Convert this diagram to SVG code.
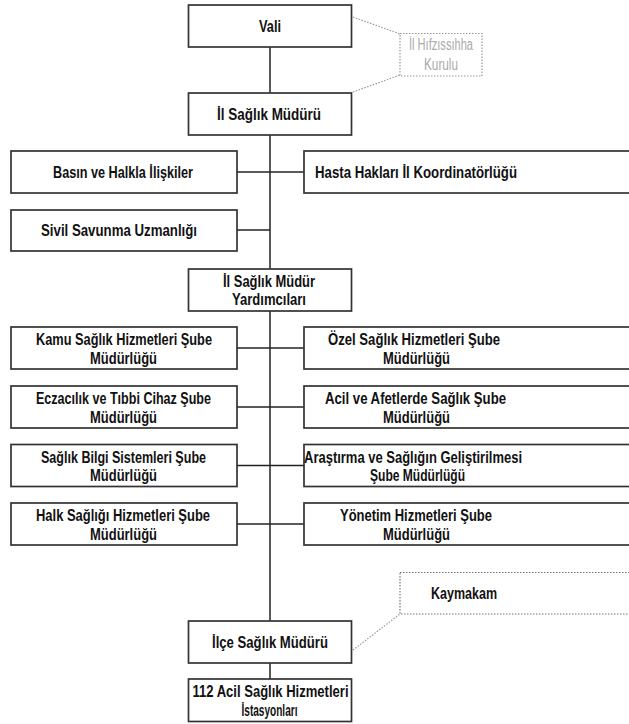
<svg xmlns="http://www.w3.org/2000/svg" width="629" height="724" viewBox="0 0 629 724">
<style>
.box{fill:#fff;stroke:#333;stroke-width:1.7}
.dbox{fill:#fff;stroke:#999;stroke-width:1.2;stroke-dasharray:1.5 1.5}
.dbox2{fill:#fff;stroke:#777;stroke-width:1.2;stroke-dasharray:1.5 1.5}
.t{font-family:"Liberation Sans",Arial,sans-serif;font-weight:bold;font-size:16px;fill:#111;text-anchor:middle}
.g{font-family:"Liberation Sans",Arial,sans-serif;font-size:16px;fill:#aaa;text-anchor:middle}
.ln{stroke:#222;stroke-width:1.5;fill:none}
.dl{stroke:#999;stroke-width:1.2;stroke-dasharray:1.5 1.5;fill:none}
</style>
<rect width="629" height="724" fill="#fff"/>
<g id="connectors">
<line class="ln" x1="270" y1="47" x2="270" y2="93"/>
<line class="ln" x1="270" y1="135" x2="270" y2="269"/>
<line class="ln" x1="270" y1="311" x2="270" y2="621"/>
<line class="ln" x1="270" y1="663" x2="270" y2="679"/>
<line class="ln" x1="237" y1="172" x2="304" y2="172"/>
<line class="ln" x1="237" y1="230" x2="270" y2="230"/>
<line class="ln" x1="237" y1="348" x2="304" y2="348"/>
<line class="ln" x1="237" y1="407" x2="304" y2="407"/>
<line class="ln" x1="237" y1="465.5" x2="304" y2="465.5"/>
<line class="ln" x1="237" y1="524" x2="304" y2="524"/>
<line class="dl" x1="353" y1="17" x2="400" y2="34"/>
<line class="dl" x1="353" y1="92" x2="400" y2="75"/>
<line class="dl" x1="353" y1="650" x2="400" y2="614"/>
</g>
<g id="vali"><rect class="box" x="188.5" y="5" width="163" height="42"/><text class="t" x="270" y="32" textLength="22" lengthAdjust="spacingAndGlyphs">Vali</text></g>
<g id="hifzissihha"><rect class="dbox" x="400" y="33.5" width="82" height="42.5"/><text class="g" x="441" y="50" textLength="64" lengthAdjust="spacingAndGlyphs">İl Hıfzıssıhha</text><text class="g" x="441" y="70" textLength="34" lengthAdjust="spacingAndGlyphs">Kurulu</text></g>
<g id="il-saglik-muduru"><rect class="box" x="188.5" y="93" width="163" height="42"/><text class="t" x="269" y="120" textLength="104" lengthAdjust="spacingAndGlyphs">İl Sağlık Müdürü</text></g>
<g id="basin"><rect class="box" x="11" y="151" width="226" height="42"/><text class="t" x="123" y="177.5" textLength="140" lengthAdjust="spacingAndGlyphs">Basın ve Halkla İlişkiler</text></g>
<g id="hasta"><rect class="box" x="304" y="151" width="340" height="42"/><text class="t" x="416" y="177.5" textLength="202" lengthAdjust="spacingAndGlyphs">Hasta Hakları İl Koordinatörlüğü</text></g>
<g id="sivil"><rect class="box" x="11" y="210" width="226" height="41"/><text class="t" x="119" y="236" textLength="156" lengthAdjust="spacingAndGlyphs">Sivil Savunma Uzmanlığı</text></g>
<g id="yardimcilari"><rect class="box" x="188.5" y="269" width="163" height="42"/><text class="t" x="269" y="286.5" textLength="92" lengthAdjust="spacingAndGlyphs">İl Sağlık Müdür</text><text class="t" x="269" y="304.5" textLength="74" lengthAdjust="spacingAndGlyphs">Yardımcıları</text></g>
<g id="kamu"><rect class="box" x="11" y="327" width="226" height="42"/><text class="t" x="124" y="345" textLength="176" lengthAdjust="spacingAndGlyphs">Kamu Sağlık Hizmetleri Şube</text><text class="t" x="123.5" y="363.5" textLength="67" lengthAdjust="spacingAndGlyphs">Müdürlüğü</text></g>
<g id="ozel"><rect class="box" x="304" y="327" width="340" height="42"/><text class="t" x="414" y="345" textLength="172" lengthAdjust="spacingAndGlyphs">Özel Sağlık Hizmetleri Şube</text><text class="t" x="416.5" y="363.5" textLength="67" lengthAdjust="spacingAndGlyphs">Müdürlüğü</text></g>
<g id="eczacilik"><rect class="box" x="11" y="386" width="226" height="42"/><text class="t" x="123.5" y="404" textLength="175" lengthAdjust="spacingAndGlyphs">Eczacılık ve Tıbbi Cihaz Şube</text><text class="t" x="123.5" y="422.5" textLength="67" lengthAdjust="spacingAndGlyphs">Müdürlüğü</text></g>
<g id="acil"><rect class="box" x="304" y="386" width="340" height="42"/><text class="t" x="415.5" y="404" textLength="181" lengthAdjust="spacingAndGlyphs">Acil ve Afetlerde Sağlık Şube</text><text class="t" x="416.5" y="422.5" textLength="67" lengthAdjust="spacingAndGlyphs">Müdürlüğü</text></g>
<g id="bilgi"><rect class="box" x="11" y="444.5" width="226" height="42"/><text class="t" x="123.5" y="462.5" textLength="165" lengthAdjust="spacingAndGlyphs">Sağlık Bilgi Sistemleri Şube</text><text class="t" x="123.5" y="481" textLength="67" lengthAdjust="spacingAndGlyphs">Müdürlüğü</text></g>
<g id="arastirma"><rect class="box" x="304" y="444.5" width="340" height="42"/><text class="t" x="413" y="462.5" textLength="218" lengthAdjust="spacingAndGlyphs">Araştırma ve Sağlığın Geliştirilmesi</text><text class="t" x="417.5" y="481" textLength="95" lengthAdjust="spacingAndGlyphs">Şube Müdürlüğü</text></g>
<g id="halk"><rect class="box" x="11" y="503" width="226" height="42"/><text class="t" x="123" y="521" textLength="174" lengthAdjust="spacingAndGlyphs">Halk Sağlığı Hizmetleri Şube</text><text class="t" x="123.5" y="539.5" textLength="67" lengthAdjust="spacingAndGlyphs">Müdürlüğü</text></g>
<g id="yonetim"><rect class="box" x="304" y="503" width="340" height="42"/><text class="t" x="416" y="521" textLength="152" lengthAdjust="spacingAndGlyphs">Yönetim Hizmetleri Şube</text><text class="t" x="416.5" y="539.5" textLength="67" lengthAdjust="spacingAndGlyphs">Müdürlüğü</text></g>
<g id="kaymakam"><rect class="dbox2" x="400" y="572.5" width="240" height="41.5"/><text class="t" x="464" y="599" textLength="66" lengthAdjust="spacingAndGlyphs">Kaymakam</text></g>
<g id="ilce"><rect class="box" x="188.5" y="621" width="163" height="42"/><text class="t" x="270" y="647.5" textLength="116" lengthAdjust="spacingAndGlyphs">İlçe Sağlık Müdürü</text></g>
<g id="istasyon"><rect class="box" x="188.5" y="679" width="163" height="42.5"/><text class="t" x="270.5" y="697" textLength="156" lengthAdjust="spacingAndGlyphs">112 Acil Sağlık Hizmetleri</text><text class="t" x="269.5" y="715.5" textLength="56" lengthAdjust="spacingAndGlyphs">İstasyonları</text></g>
</svg>
